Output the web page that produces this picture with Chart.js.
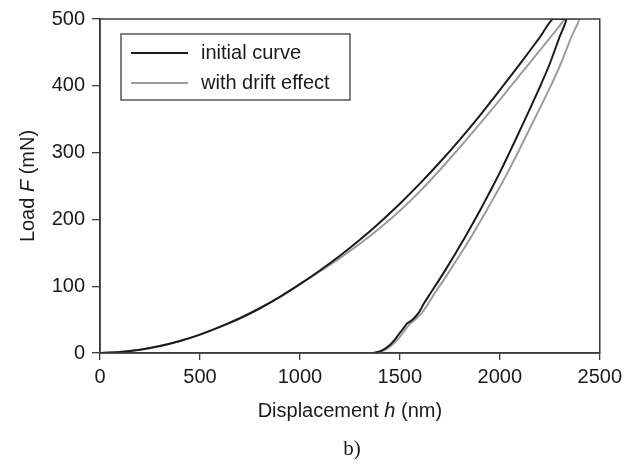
<!DOCTYPE html>
<html>
<head>
<meta charset="utf-8">
<script src="https://cdn.jsdelivr.net/npm/chart.js@4.4.1/dist/chart.umd.min.js"></script>
<style>
  html, body { margin: 0; padding: 0; background: #fff; }
  #wrap { width: 627px; height: 463px; }
</style>
</head>
<body>
<div id="wrap"><canvas id="chart"></canvas></div>
<script>
// Indentation curves: displacement h (nm) against load F (mN)
const initialLoadH = [0, 100, 200, 300, 400, 500, 600, 700, 800, 900, 1000, 1100, 1200, 1300, 1400, 1500, 1600, 1700, 1800, 1900, 2000, 2100, 2200, 2265];
const initialLoadF = [0, 1.5, 5, 10.5, 18, 27.5, 39, 52, 67, 84, 103, 123.5, 145.5, 169.5, 195.5, 223.5, 253.5, 285.5, 319.5, 355.5, 393.5, 432.5, 472.5, 500];
const initialUnloadH = [2332, 2300, 2250, 2200, 2150, 2100, 2050, 2000, 1950, 1900, 1850, 1800, 1750, 1700, 1650, 1620, 1600, 1580, 1560, 1545, 1535, 1520, 1500, 1475, 1450, 1420, 1390, 1365];
const initialUnloadF = [500, 474, 433, 398, 365, 333, 301, 270, 241, 213, 186, 160, 135, 111, 88, 74, 63, 55, 49, 46, 44, 38, 30, 20, 12, 5.5, 1.5, 0];

const driftLoadH = [0, 100, 200, 300, 400, 500, 600, 700, 800, 900, 1000, 1100, 1200, 1300, 1400, 1500, 1600, 1700, 1800, 1900, 2000, 2100, 2200, 2300, 2327];
const driftLoadF = [0, 1.5, 5, 10.5, 18, 27.5, 39, 52, 67, 84, 103, 122, 142, 163.5, 187, 213, 242, 274, 308, 343, 379, 416, 453, 490, 500];
const driftUnloadH = [2396, 2359, 2305, 2252, 2198, 2145, 2092, 2039, 1986, 1933, 1881, 1828, 1775, 1723, 1671, 1640, 1620, 1600, 1580, 1565, 1552, 1540, 1520, 1495, 1465, 1435, 1405, 1374];
const driftUnloadF = [500, 474, 433, 398, 365, 333, 301, 270, 241, 213, 186, 160, 135, 111, 88, 73, 64, 57, 51, 47, 44, 40, 32, 22, 13, 6, 2, 0];

const seriesLabels = ['initial curve', 'with drift effect'];
const seriesColors = ['#1b1b1b', '#9c9c9c'];

const xTicks = [0, 500, 1000, 1500, 2000, 2500];
const yTicks = [0, 100, 200, 300, 400, 500];

// axis titles as [text, italic] pieces
const xTitle = [['Displacement ', false], ['h', true], [' (nm)', false]];
const yTitle = [['Load ', false], ['F', true], [' (mN)', false]];
const caption = 'b)';

const FONT = '"Liberation Sans", Arial, Helvetica, sans-serif';
const FONT_SIZE = 20;
const AXIS = '#3c3c3c';

function toPoints(hs, fs) {
  return hs.map((h, i) => ({ x: h, y: fs[i] }));
}

// draw a line of text made of pieces, centred on cx
function drawParts(ctx, parts, cx, cy) {
  const fonts = parts.map(p => (p[1] ? 'italic ' : '') + FONT_SIZE + 'px ' + FONT);
  let total = 0;
  const widths = parts.map((p, i) => { ctx.font = fonts[i]; const w = ctx.measureText(p[0]).width; total += w; return w; });
  let x = cx - total / 2;
  ctx.textAlign = 'left';
  ctx.textBaseline = 'middle';
  parts.forEach((p, i) => { ctx.font = fonts[i]; ctx.fillText(p[0], x, cy); x += widths[i]; });
}

const overlay = {
  id: 'overlay',
  afterDraw(chart) {
    const { ctx, chartArea: a } = chart;
    ctx.save();

    // frame round the plot
    ctx.strokeStyle = AXIS;
    ctx.lineWidth = 1.5;
    ctx.strokeRect(a.left, a.top, a.right - a.left, a.bottom - a.top);

    // boxed legend, top left inside the plot
    const bx = a.left + 21, by = a.top + 15, bw = 229, bh = 66;
    ctx.fillStyle = '#fff';
    ctx.fillRect(bx, by, bw, bh);
    ctx.lineWidth = 1.3;
    ctx.strokeRect(bx, by, bw, bh);
    chart.data.datasets.forEach((ds, i) => {
      const y = by + 19 + i * 30;
      ctx.strokeStyle = ds.borderColor;
      ctx.lineWidth = 2;
      ctx.beginPath();
      ctx.moveTo(bx + 10, y);
      ctx.lineTo(bx + 67, y);
      ctx.stroke();
      ctx.fillStyle = '#1a1a1a';
      ctx.font = FONT_SIZE + 'px ' + FONT;
      ctx.textAlign = 'left';
      ctx.textBaseline = 'middle';
      ctx.fillText(ds.label, bx + 80, y);
    });

    // axis titles
    ctx.fillStyle = '#1a1a1a';
    const cx = (a.left + a.right) / 2;
    drawParts(ctx, xTitle, cx, 411);
    ctx.translate(28, (a.top + a.bottom) / 2);
    ctx.rotate(-Math.PI / 2);
    drawParts(ctx, yTitle, 0, 0);
    ctx.setTransform(1, 0, 0, 1, 0, 0);

    // panel caption
    ctx.font = '21px "Liberation Serif", "Times New Roman", serif';
    ctx.textAlign = 'center';
    ctx.textBaseline = 'middle';
    ctx.fillText(caption, cx + 2, 449);
    ctx.restore();
  }
};

const ctx = document.getElementById('chart').getContext('2d');
new Chart(ctx, {
  type: 'scatter',
  data: {
    datasets: [{
      label: seriesLabels[0],
      data: toPoints(initialLoadH.concat(initialUnloadH), initialLoadF.concat(initialUnloadF)),
      borderColor: seriesColors[0],
      borderWidth: 2,
      showLine: true,
      tension: 0.2,
      pointRadius: 0,
      fill: false
    }, {
      label: seriesLabels[1],
      data: toPoints(driftLoadH.concat(driftUnloadH), driftLoadF.concat(driftUnloadF)),
      borderColor: seriesColors[1],
      borderWidth: 2,
      showLine: true,
      tension: 0.2,
      pointRadius: 0,
      fill: false
    }]
  },
  options: {
    responsive: true,
    maintainAspectRatio: false,
    animation: false,
    devicePixelRatio: 1,
    layout: { padding: { top: 17, right: 26, left: 0, bottom: 0 } },
    scales: {
      x: {
        type: 'linear',
        min: xTicks[0],
        max: xTicks[xTicks.length - 1],
        afterFit: s => { s.height = 110; },
        afterBuildTicks: s => { s.ticks = xTicks.map(v => ({ value: v })); },
        grid: { drawOnChartArea: false, drawTicks: true, tickLength: 7, color: AXIS, lineWidth: 1.3 },
        border: { color: AXIS, width: 1.5 },
        ticks: { padding: 5, color: '#1a1a1a', font: { family: FONT, size: FONT_SIZE }, maxRotation: 0, callback: v => String(v) }
      },
      y: {
        type: 'linear',
        min: yTicks[0],
        max: yTicks[yTicks.length - 1],
        afterFit: s => { s.width = 100; },
        afterBuildTicks: s => { s.ticks = yTicks.map(v => ({ value: v })); },
        grid: { drawOnChartArea: false, drawTicks: true, tickLength: 8, color: AXIS, lineWidth: 1.3 },
        border: { color: AXIS, width: 1.5 },
        ticks: { padding: 7, color: '#1a1a1a', font: { family: FONT, size: FONT_SIZE }, callback: v => String(v) }
      }
    },
    plugins: {
      legend: { display: false },
      tooltip: { enabled: false }
    }
  },
  plugins: [overlay]
});
</script>
</body>
</html>
